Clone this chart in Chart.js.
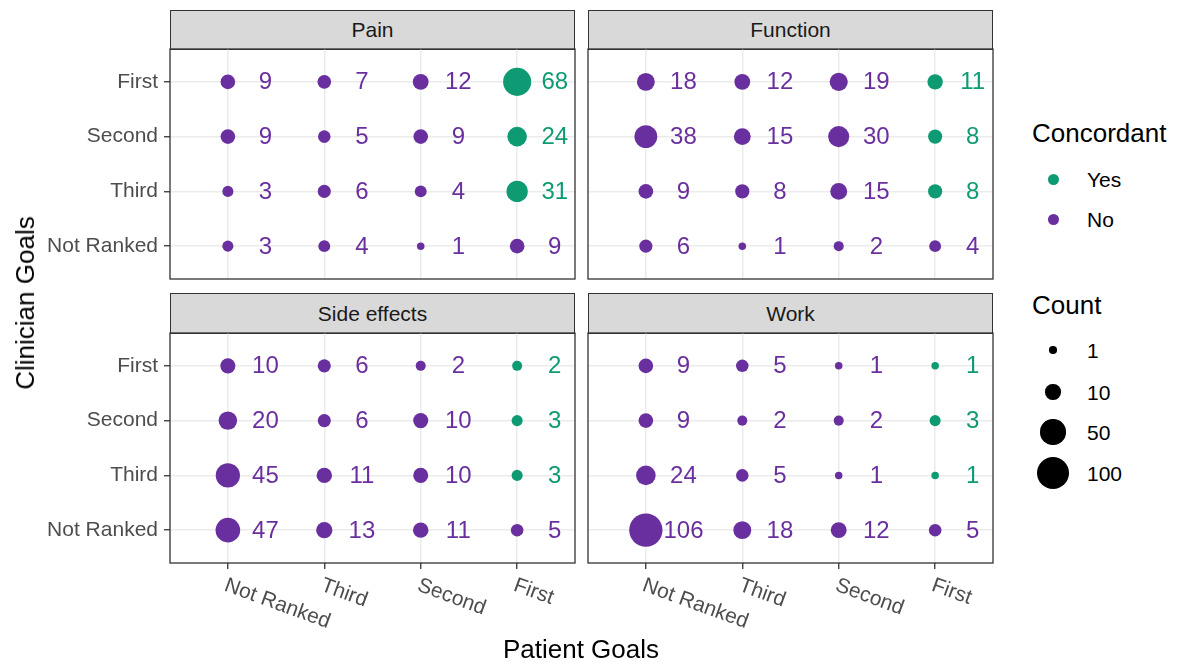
<!DOCTYPE html>
<html><head><meta charset="utf-8">
<script src="https://cdn.jsdelivr.net/npm/chart.js@4/dist/chart.umd.min.js"></script>
<style>
html,body{margin:0;padding:0;background:#fff;}
#root{position:relative;width:1179px;height:664px;overflow:hidden;font-family:"Liberation Sans",Arial,sans-serif;background:#fff;}
canvas{position:absolute;}
.strip{position:absolute;box-sizing:border-box;background:#d9d9d9;border:1.3px solid #333;color:#1a1a1a;font-size:21px;display:flex;align-items:center;justify-content:center;}
.t{position:absolute;white-space:nowrap;line-height:1;color:#000;}
.dot{position:absolute;border-radius:50%;}
</style></head><body><div id="root"></div>
<script>
// ---------- data ----------
const facets = ['Pain', 'Function', 'Side effects', 'Work'];
const patientGoals = ['Not Ranked', 'Third', 'Second', 'First'];    // x axis, left -> right
const clinicianGoals = ['Not Ranked', 'Third', 'Second', 'First'];  // y axis, bottom -> top
const rowOrder = ['First', 'Second', 'Third', 'Not Ranked'];        // order of rows in the count tables
// counts: rows = clinician goal (rowOrder), columns = patient goal (patientGoals)
const painCounts     = [[9, 7, 12, 68], [9, 5, 9, 24], [3, 6, 4, 31], [3, 4, 1, 9]];
const functionCounts = [[18, 12, 19, 11], [38, 15, 30, 8], [9, 8, 15, 8], [6, 1, 2, 4]];
const sideCounts     = [[10, 6, 2, 2], [20, 6, 10, 3], [45, 11, 10, 3], [47, 13, 11, 5]];
const workCounts     = [[9, 5, 1, 1], [9, 2, 2, 3], [24, 5, 1, 1], [106, 18, 12, 5]];
const concordant = [['No', 'No', 'No', 'Yes'], ['No', 'No', 'No', 'Yes'], ['No', 'No', 'No', 'Yes'], ['No', 'No', 'No', 'No']];
const concordantLevels = ['Yes', 'No'];
const countBreaks = [1, 10, 50, 100];
const xTitle = 'Patient Goals';
const yTitle = 'Clinician Goals';

// ---------- style ----------
const FONT = '"Liberation Sans", Arial, sans-serif';
const COLORS = { Yes: '#0E9B73', No: '#6A2F9E' };
const SIZE_RANGE = [7.5, 33.3]; // diameter px
const allCounts = [painCounts, functionCounts, sideCounts, workCounts].flat(2);
const cMin = Math.min(...allCounts), cMax = Math.max(...allCounts);
function radiusOf(v) {
  const t = Math.sqrt((v - cMin) / (cMax - cMin));
  return (SIZE_RANGE[0] + (SIZE_RANGE[1] - SIZE_RANGE[0]) * t) / 2;
}
const COLS = [{ L: 170, W: 405 }, { L: 588, W: 405 }];
const ROWS = [{ S: 10, T: 49, H: 230 }, { S: 293, T: 333, H: 230 }];
const PAD = 20, XH = 100, LABEL_DX = 0.39;

Chart.defaults.font.family = FONT;
const root = document.getElementById('root');

function el(tag, cls, style, text) {
  const e = document.createElement(tag);
  if (cls) e.className = cls;
  Object.assign(e.style, style);
  if (text !== undefined) e.textContent = text;
  root.appendChild(e);
  return e;
}

const deco = {
  id: 'deco',
  afterDatasetsDraw(chart, args, opts) {
    const { ctx, chartArea: a, scales: { x, y } } = chart;
    ctx.save();
    ctx.font = '24px ' + FONT;
    ctx.textAlign = 'center';
    ctx.textBaseline = 'middle';
    chart.data.datasets.forEach(ds => {
      ctx.fillStyle = ds.backgroundColor;
      ds.data.forEach(p => ctx.fillText(String(p.v), x.getPixelForValue(p.x + LABEL_DX), y.getPixelForValue(p.y) + 1));
    });
    ctx.strokeStyle = '#333';
    ctx.lineWidth = 1.3;
    ctx.strokeRect(a.left, a.top, a.right - a.left, a.bottom - a.top);
    if (opts.xLabels) {
      ctx.font = '21px ' + FONT;
      ctx.fillStyle = '#4d4d4d';
      ctx.textAlign = 'left';
      ctx.textBaseline = 'top';
      x.ticks.forEach(t => {
        ctx.save();
        ctx.translate(x.getPixelForValue(t.value) + 1, a.bottom + 12);
        ctx.rotate(20 * Math.PI / 180);
        ctx.fillText(patientGoals[t.value], 0, 0);
        ctx.restore();
      });
    }
    ctx.restore();
  }
};

function makePanel(idx, counts) {
  const col = idx % 2, row = Math.floor(idx / 2);
  const { L, W } = COLS[col];
  const { S, T, H } = ROWS[row];
  const left = col === 0 ? 0 : L - PAD;
  const top = T - PAD;
  const cw = (L - left) + W + PAD;
  const ch = PAD + H + (row === 1 ? XH : PAD);

  el('div', 'strip', { left: L + 'px', top: S + 'px', width: W + 'px', height: (T - S + 1) + 'px' }, facets[idx]);

  const cv = document.createElement('canvas');
  cv.width = cw; cv.height = ch;
  Object.assign(cv.style, { left: left + 'px', top: top + 'px', width: cw + 'px', height: ch + 'px' });
  root.appendChild(cv);

  const sets = {};
  concordantLevels.forEach(k => sets[k] = []);
  counts.forEach((rowVals, ri) => {
    const yv = clinicianGoals.indexOf(rowOrder[ri]);
    rowVals.forEach((v, ci) => {
      sets[concordant[ri][ci]].push({ x: ci, y: yv, r: radiusOf(v), v: v });
    });
  });

  new Chart(cv, {
    type: 'bubble',
    data: {
      datasets: concordantLevels.map(k => ({
        label: k, data: sets[k], backgroundColor: COLORS[k], borderWidth: 0, hoverRadius: 0, hoverBorderWidth: 0
      }))
    },
    options: {
      responsive: false, animation: false, events: [], devicePixelRatio: 1,
      layout: { padding: { left: col === 0 ? 0 : PAD, right: PAD, top: PAD, bottom: row === 1 ? 0 : PAD } },
      plugins: { legend: { display: false }, tooltip: { enabled: false }, deco: { xLabels: row === 1 } },
      scales: {
        x: {
          type: 'linear', min: -0.6, max: 3.6,
          afterBuildTicks: s => { s.ticks = patientGoals.map((_, i) => ({ value: i })); },
          afterFit: s => { s.height = row === 1 ? XH : 0; },
          ticks: { display: false },
          grid: { color: '#ebebeb', lineWidth: 1.5, drawTicks: row === 1, tickLength: 6, tickColor: '#333', tickWidth: 1.3 },
          border: { display: false }
        },
        y: {
          type: 'linear', min: -0.6, max: 3.6,
          afterBuildTicks: s => { s.ticks = clinicianGoals.map((_, i) => ({ value: i })); },
          afterFit: s => { s.width = col === 0 ? L : 0; },
          ticks: { display: col === 0, autoSkip: false, padding: 6, color: '#4d4d4d', font: { size: 21, family: FONT }, callback: v => clinicianGoals[v] },
          grid: { color: '#ebebeb', lineWidth: 1.5, drawTicks: col === 0, tickLength: 6, tickColor: '#333', tickWidth: 1.3 },
          border: { display: false }
        }
      }
    },
    plugins: [deco]
  });
}

[painCounts, functionCounts, sideCounts, workCounts].forEach((c, i) => makePanel(i, c));

// axis titles
el('div', 't', { left: '581px', top: '649px', fontSize: '26px', transform: 'translate(-50%,-50%)' }, xTitle);
el('div', 't', { left: '25px', top: '303px', fontSize: '26px', transform: 'translate(-50%,-50%) rotate(-90deg)' }, yTitle);

// legends
const LX = 1032, KX = 1053, TX = 1087;
el('div', 't', { left: LX + 'px', top: '133px', fontSize: '26px', transform: 'translateY(-50%)' }, 'Concordant');
[179, 219].forEach((yy, i) => {
  const k = concordantLevels[i];
  el('div', 'dot', { left: (KX - 5.5) + 'px', top: (yy - 5.5) + 'px', width: '11px', height: '11px', background: COLORS[k] });
  el('div', 't', { left: TX + 'px', top: yy + 'px', fontSize: '21px', transform: 'translateY(-50%)' }, k);
});
el('div', 't', { left: LX + 'px', top: '305px', fontSize: '26px', transform: 'translateY(-50%)' }, 'Count');
[350, 392, 432, 473].forEach((yy, i) => {
  const r = radiusOf(countBreaks[i]);
  el('div', 'dot', { left: (KX - r) + 'px', top: (yy - r) + 'px', width: 2 * r + 'px', height: 2 * r + 'px', background: '#000' });
  el('div', 't', { left: TX + 'px', top: yy + 'px', fontSize: '21px', transform: 'translateY(-50%)' }, String(countBreaks[i]));
});
</script></body></html>
